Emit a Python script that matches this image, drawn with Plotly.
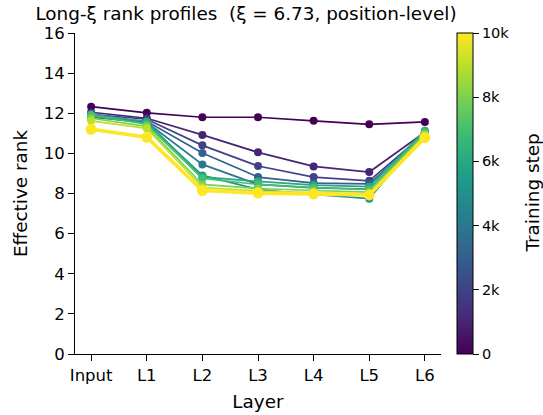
import plotly.graph_objects as go
from plotly.colors import sample_colorscale

layers = ["Input", "L1", "L2", "L3", "L4", "L5", "L6"]
steps = [0, 1000, 2000, 3000, 4000, 5000, 6000, 7000, 8000, 9000, 10000]

rank_0k = [12.33, 12.02, 11.80, 11.80, 11.62, 11.45, 11.57]
rank_1k = [12.05, 11.75, 10.92, 10.05, 9.35, 9.07, 11.05]
rank_2k = [11.95, 11.70, 10.40, 9.37, 8.82, 8.63, 11.00]
rank_3k = [11.85, 11.60, 10.02, 8.82, 8.52, 8.48, 10.95]
rank_4k = [11.80, 11.55, 9.45, 8.45, 8.28, 8.22, 11.00]
rank_5k = [11.85, 11.50, 8.90, 8.20, 7.95, 7.74, 11.05]
rank_6k = [11.95, 11.58, 8.83, 8.60, 8.42, 8.34, 11.13]
rank_7k = [11.90, 11.45, 8.75, 8.45, 8.30, 8.20, 11.05]
rank_8k = [11.75, 11.35, 8.45, 8.25, 8.15, 8.07, 10.95]
rank_9k = [11.62, 11.25, 8.30, 8.12, 8.05, 7.97, 10.90]
rank_10k = [11.20, 10.80, 8.15, 8.02, 7.98, 7.93, 10.78]

profiles = [rank_0k, rank_1k, rank_2k, rank_3k, rank_4k, rank_5k,
            rank_6k, rank_7k, rank_8k, rank_9k, rank_10k]

cbar_ticks = [0, 2000, 4000, 6000, 8000, 10000]
cbar_labels = ["0", "2k", "4k", "6k", "8k", "10k"]

FONT = "DejaVu Sans"
fig = go.Figure()

for s, vals in zip(steps, profiles):
    col = sample_colorscale("Viridis", [s / 10000])[0]
    last = s == steps[-1]
    fig.add_trace(go.Scatter(
        x=list(range(len(layers))), y=vals, mode="lines+markers",
        line=dict(color=col, width=3.6 if last else 1.7),
        marker=dict(color=col, size=11 if last else 8),
        showlegend=False, hoverinfo="skip",
    ))

# colorbar carrier
fig.add_trace(go.Scatter(
    x=[None], y=[None], mode="markers", showlegend=False,
    marker=dict(color=[0, 10000], cmin=0, cmax=10000, colorscale="Viridis",
                showscale=True,
                colorbar=dict(
                    x=(457 - 75) / 366, xanchor="left", xpad=0,
                    y=0.5, yanchor="middle", len=1, lenmode="fraction",
                    ypad=0, thickness=16, outlinewidth=1, outlinecolor="black",
                    tickvals=cbar_ticks, ticktext=cbar_labels,
                    ticks="outside", ticklen=6, tickcolor="black",
                    tickfont=dict(family=FONT, size=14.5, color="black"),
                )),
))

fig.add_annotation(
    text="Training step", xref="paper", yref="paper",
    x=(532 - 75) / 366, y=0.5, xanchor="center", yanchor="middle",
    textangle=-90, showarrow=False,
    font=dict(family=FONT, size=18.4, color="black"),
)

fig.update_layout(
    width=543, height=415,
    margin=dict(l=75, r=102, t=33, b=61, autoexpand=False),
    plot_bgcolor="white", paper_bgcolor="white",
    font=dict(family=FONT, color="black"),
    title=dict(text="Long-ξ rank profiles  (ξ = 6.73, position-level)",
               x=246 / 543, xanchor="center", y=1 - 14 / 415, yanchor="middle",
               font=dict(family=FONT, size=18.4, color="black")),
)
fig.update_xaxes(
    automargin=False,
    tickvals=list(range(len(layers))), ticktext=layers,
    range=[-0.29, 6.29], showgrid=False, zeroline=False,
    showline=True, linecolor="black", linewidth=1,
    ticks="outside", ticklen=6, tickcolor="black",
    tickfont=dict(family=FONT, size=16.5, color="black"),
    title=dict(text="Layer", font=dict(family=FONT, size=18.4, color="black"), standoff=11),
)
fig.update_yaxes(
    automargin=False,
    range=[0, 16], tickvals=list(range(0, 17, 2)),
    showgrid=False, zeroline=False,
    showline=True, linecolor="black", linewidth=1,
    ticks="outside", ticklen=6, tickcolor="black",
    tickfont=dict(family=FONT, size=16.5, color="black"),
    title=dict(text="Effective rank", font=dict(family=FONT, size=18.4, color="black"), standoff=11),
)

fig.write_html("out.html")
